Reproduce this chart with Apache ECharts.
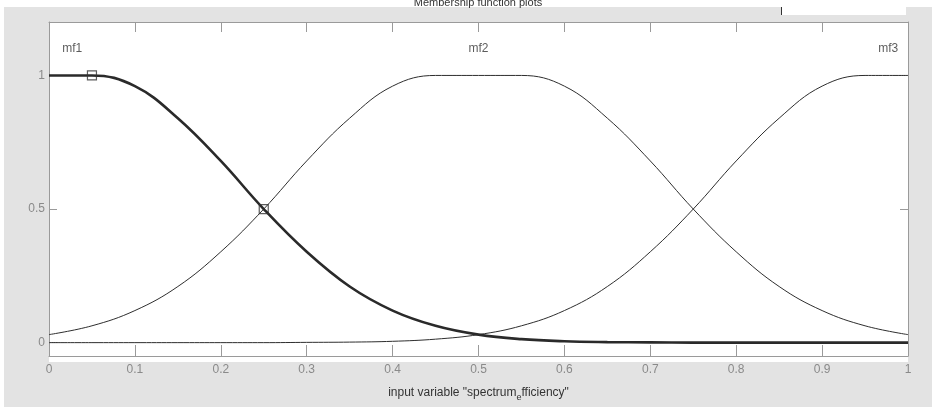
<!DOCTYPE html>
<html>
<head>
<meta charset="utf-8">
<script src="https://cdn.jsdelivr.net/npm/echarts@6/dist/echarts.min.js"></script>
<style>html,body{margin:0;padding:0;background:#fff;}#c{width:932px;height:407px;}</style>
</head>
<body>
<div id="c"></div>
<script>
// x sample positions
const xs = [0, 0.05, 0.1, 0.15, 0.2, 0.25, 0.3, 0.35, 0.4, 0.45, 0.5, 0.55, 0.6, 0.65, 0.7, 0.75, 0.8, 0.85, 0.9, 0.95, 1];
// membership values
const mf1 = [1, 1, 0.96, 0.84, 0.68, 0.5, 0.34, 0.21, 0.12, 0.063, 0.03, 0.013, 0.005, 0.002, 0.001, 0, 0, 0, 0, 0, 0];
const mf2 = [0.03, 0.063, 0.12, 0.21, 0.34, 0.5, 0.68, 0.84, 0.96, 1, 1, 1, 0.96, 0.84, 0.68, 0.5, 0.34, 0.21, 0.12, 0.063, 0.03];
const mf3 = [0, 0, 0, 0, 0, 0, 0.001, 0.002, 0.005, 0.013, 0.03, 0.063, 0.12, 0.21, 0.34, 0.5, 0.68, 0.84, 0.96, 1, 1];
const mfNames = ['mf1', 'mf2', 'mf3'];
const mfLabelX = [0.027, 0.5, 0.977];
const mfLabelY = 1.1;
const markerPts = [[0.05, 1], [0.25, 0.5]];
const xTicks = ['0', '0.1', '0.2', '0.3', '0.4', '0.5', '0.6', '0.7', '0.8', '0.9', '1'];
const yTickVals = [0, 0.5, 1];
const titleText = 'Membership function plots';
const xName = 'input variable "spectrum{sub|e}fficiency"';

const pairs = arr => xs.map((x, i) => [x, arr[i]]);
const FONT = '"Liberation Sans", Arial, sans-serif';
const boxColor = '#9a9a9a';

const chart = echarts.init(document.getElementById('c'), null, {renderer: 'canvas'});
const lineBase = {type: 'line', smooth: 0.4, showSymbol: false, symbol: 'none', silent: true, animation: false};
chart.setOption({
  animation: false,
  backgroundColor: '#ffffff',
  graphic: [
    {type: 'rect', z: -10, shape: {x: 4, y: 7, width: 928, height: 400}, style: {fill: '#e3e3e3'}},
    {type: 'rect', z: -9, shape: {x: 782, y: 0, width: 124, height: 15}, style: {fill: '#ffffff'}},
    {type: 'line', z: -8, shape: {x1: 781.5, y1: 7, x2: 781.5, y2: 15}, style: {stroke: '#333', lineWidth: 1}},
    {type: 'rect', z: -5, shape: {x: 49, y: 22, width: 859, height: 340}, style: {fill: '#ffffff'}},
    {type: 'text', z: 10, x: 478, y: -3, style: {text: titleText, fill: '#333', font: '11px ' + FONT, textAlign: 'center', textVerticalAlign: 'top'}}
  ],
  grid: {left: 49, right: 24, top: 22, bottom: 45, containLabel: false},
  xAxis: [
    {
      type: 'value', min: 0, max: 1, interval: 0.1, position: 'bottom',
      name: xName, nameLocation: 'middle', nameGap: 27,
      nameTextStyle: {color: '#333', fontSize: 12, fontFamily: FONT,
        rich: {sub: {fontSize: 9, color: '#333', fontFamily: FONT, padding: [10, 0, 0, 0]}}},
      axisLine: {show: true, onZero: false, lineStyle: {color: boxColor, width: 1}},
      axisTick: {show: true, inside: true, length: 11, lineStyle: {color: boxColor}},
      axisLabel: {color: '#8a8a8a', fontSize: 12, fontFamily: FONT, margin: 8,
        formatter: (v) => xTicks[Math.round(v * 10)]},
      splitLine: {show: false}
    },
    {
      type: 'value', min: 0, max: 1, interval: 0.1, position: 'top',
      axisLine: {show: true, onZero: false, lineStyle: {color: boxColor, width: 1}},
      axisTick: {show: true, inside: true, length: 10, lineStyle: {color: boxColor}},
      axisLabel: {show: false}, splitLine: {show: false}
    }
  ],
  yAxis: [
    {
      type: 'value', min: -0.05, max: 1.2, position: 'left',
      axisLine: {show: true, onZero: false, lineStyle: {color: boxColor, width: 1}},
      axisTick: {show: true, inside: true, length: 8, customValues: yTickVals, lineStyle: {color: boxColor}},
      axisLabel: {show: true, customValues: yTickVals, color: '#8a8a8a', fontSize: 12, fontFamily: FONT, margin: 4,
        formatter: (v) => String(v)},
      splitLine: {show: false}
    },
    {
      type: 'value', min: -0.05, max: 1.2, position: 'right',
      axisLine: {show: true, onZero: false, lineStyle: {color: boxColor, width: 1}},
      axisTick: {show: true, inside: true, length: 8, customValues: yTickVals, lineStyle: {color: boxColor}},
      axisLabel: {show: false}, splitLine: {show: false}
    }
  ],
  series: [
    Object.assign({}, lineBase, {name: 'mf2', data: pairs(mf2), lineStyle: {color: '#2e2e2e', width: 1}}),
    Object.assign({}, lineBase, {name: 'mf3', data: pairs(mf3), lineStyle: {color: '#2e2e2e', width: 1}}),
    Object.assign({}, lineBase, {name: 'mf1', data: pairs(mf1), lineStyle: {color: '#2a2a2a', width: 2.6}, z: 3}),
    {
      type: 'scatter', data: markerPts, symbol: 'rect', symbolSize: 9, silent: true, z: 5,
      itemStyle: {color: 'rgba(0,0,0,0)', borderColor: '#333', borderWidth: 1.2}
    },
    {
      type: 'scatter', symbolSize: 0, silent: true,
      data: mfNames.map((n, i) => ({value: [mfLabelX[i], mfLabelY], name: n})),
      label: {show: true, position: 'inside', formatter: (p) => p.name, color: '#333', fontSize: 12, fontFamily: FONT}
    }
  ]
});
</script>
</body>
</html>
